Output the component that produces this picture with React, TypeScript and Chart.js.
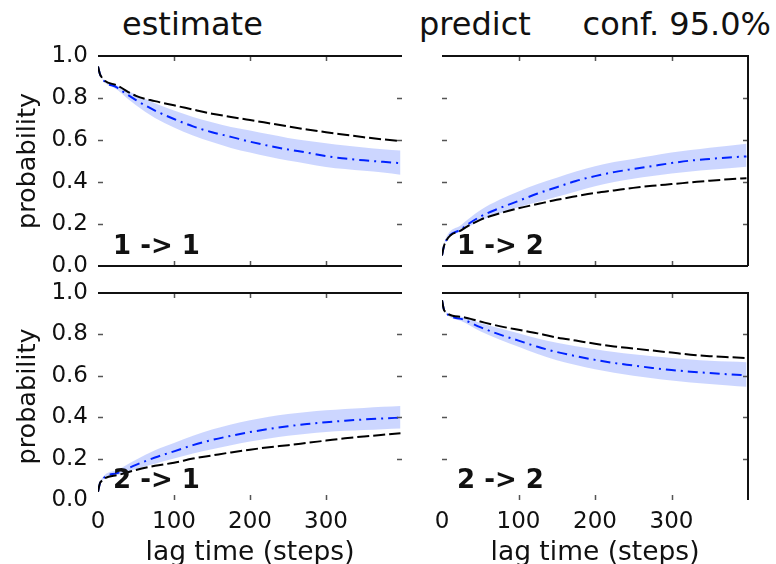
import React, { useEffect, useRef } from 'react';
import { Chart, registerables } from 'chart.js';

Chart.register(...registerables);

const FONT = '"DejaVu Sans", sans-serif';

// lag times (steps)
const lags = [0, 3, 25, 50, 75, 100, 125, 150, 175, 200, 225, 250, 275, 300, 325, 350, 375, 398];
const xTickValues = [0, 100, 200, 300];
const yTickValues = [0, 0.2, 0.4, 0.6, 0.8, 1.0];
const innerXTicks = [100, 200, 300];
const innerYTicks = [0.2, 0.4, 0.6, 0.8];

// 1 -> 1
const est11 = [0.95, 0.91, 0.86, 0.81, 0.785, 0.765, 0.745, 0.725, 0.71, 0.695, 0.68, 0.665, 0.65, 0.637, 0.625, 0.613, 0.603, 0.595];
const pred11 = [0.95, 0.91, 0.85, 0.79, 0.74, 0.70, 0.665, 0.637, 0.615, 0.592, 0.572, 0.555, 0.54, 0.523, 0.512, 0.503, 0.496, 0.49];
const hi11 = [0.95, 0.91, 0.86, 0.815, 0.775, 0.74, 0.71, 0.685, 0.662, 0.645, 0.627, 0.61, 0.597, 0.585, 0.574, 0.564, 0.556, 0.55];
const lo11 = [0.95, 0.91, 0.84, 0.765, 0.705, 0.66, 0.622, 0.59, 0.562, 0.54, 0.52, 0.502, 0.487, 0.472, 0.462, 0.453, 0.445, 0.435];

// 1 -> 2
const est12 = [0.05, 0.10, 0.17, 0.22, 0.25, 0.275, 0.295, 0.315, 0.332, 0.348, 0.36, 0.372, 0.382, 0.39, 0.398, 0.406, 0.413, 0.418];
const pred12 = [0.05, 0.10, 0.175, 0.235, 0.275, 0.31, 0.345, 0.375, 0.405, 0.428, 0.447, 0.462, 0.476, 0.49, 0.502, 0.51, 0.517, 0.522];
const hi12 = [0.05, 0.11, 0.195, 0.265, 0.315, 0.355, 0.39, 0.42, 0.45, 0.475, 0.495, 0.51, 0.525, 0.54, 0.552, 0.563, 0.573, 0.582];
const lo12 = [0.05, 0.10, 0.165, 0.215, 0.25, 0.28, 0.305, 0.33, 0.355, 0.38, 0.40, 0.415, 0.428, 0.44, 0.45, 0.458, 0.466, 0.473];

// 2 -> 1
const est21 = [0.04, 0.085, 0.12, 0.145, 0.165, 0.18, 0.20, 0.215, 0.23, 0.243, 0.255, 0.265, 0.276, 0.287, 0.298, 0.307, 0.315, 0.322];
const pred21 = [0.04, 0.085, 0.13, 0.17, 0.205, 0.235, 0.265, 0.29, 0.31, 0.328, 0.343, 0.356, 0.367, 0.376, 0.383, 0.389, 0.394, 0.398];
const hi21 = [0.04, 0.09, 0.145, 0.195, 0.24, 0.275, 0.31, 0.34, 0.365, 0.385, 0.402, 0.415, 0.425, 0.433, 0.44, 0.445, 0.45, 0.454];
const lo21 = [0.04, 0.085, 0.12, 0.15, 0.175, 0.20, 0.225, 0.245, 0.265, 0.283, 0.297, 0.31, 0.32, 0.328, 0.334, 0.338, 0.342, 0.345];

// 2 -> 2
const est22 = [0.965, 0.915, 0.885, 0.862, 0.84, 0.822, 0.805, 0.785, 0.77, 0.755, 0.742, 0.732, 0.722, 0.712, 0.702, 0.695, 0.69, 0.686];
const pred22 = [0.965, 0.915, 0.875, 0.835, 0.80, 0.77, 0.74, 0.715, 0.695, 0.677, 0.662, 0.65, 0.638, 0.628, 0.62, 0.613, 0.607, 0.602];
const hi22 = [0.965, 0.915, 0.885, 0.855, 0.83, 0.805, 0.78, 0.76, 0.743, 0.728, 0.715, 0.704, 0.694, 0.686, 0.679, 0.673, 0.669, 0.666];
const lo22 = [0.965, 0.915, 0.865, 0.815, 0.775, 0.74, 0.705, 0.675, 0.652, 0.632, 0.615, 0.60, 0.588, 0.577, 0.568, 0.56, 0.553, 0.547];

type Spec = {
  label: string;
  est: number[];
  pred: number[];
  hi: number[];
  lo: number[];
  L: number; T: number; R: number; B: number;
  showX: boolean; showY: boolean;
  spines: { top: boolean; bottom: boolean; left: boolean; right: boolean };
};

const panels: Spec[] = [
  { label: '1 -> 1', est: est11, pred: pred11, hi: hi11, lo: lo11, L: 98, T: 56, R: 402, B: 266, showX: false, showY: true, spines: { top: true, bottom: true, left: false, right: false } },
  { label: '1 -> 2', est: est12, pred: pred12, hi: hi12, lo: lo12, L: 442, T: 56, R: 748, B: 266, showX: false, showY: false, spines: { top: true, bottom: true, left: false, right: true } },
  { label: '2 -> 1', est: est21, pred: pred21, hi: hi21, lo: lo21, L: 98, T: 293, R: 402, B: 500, showX: true, showY: true, spines: { top: true, bottom: false, left: false, right: false } },
  { label: '2 -> 2', est: est22, pred: pred22, hi: hi22, lo: lo22, L: 442, T: 293, R: 748, B: 500, showX: true, showY: false, spines: { top: true, bottom: false, left: false, right: true } },
];

const toXY = (ys: number[]) => lags.map((x, i) => ({ x, y: ys[i] }));

function Panel({ spec }: { spec: Spec }) {
  const ref = useRef<HTMLCanvasElement>(null);
  const PL = spec.showY ? spec.L : 14;
  const PR = 8;
  const PT = 14;
  const PB = spec.showX ? 64 : 12;
  const width = spec.R - spec.L + PL + PR;
  const height = spec.B - spec.T + PT + PB;

  useEffect(() => {
    const decor = {
      id: 'decor',
      afterDatasetsDraw(chart: any) {
        const { ctx, chartArea: a, scales } = chart;
        const xs = scales.x;
        const ys = scales.y;
        ctx.save();
        // inner tick marks
        ctx.strokeStyle = '#555';
        ctx.lineWidth = 1.5;
        ctx.beginPath();
        innerYTicks.forEach((v) => {
          const py = Math.round(ys.getPixelForValue(v)) + 0.5;
          ctx.moveTo(a.left, py); ctx.lineTo(a.left + 5, py);
          ctx.moveTo(a.right, py); ctx.lineTo(a.right - 5, py);
        });
        innerXTicks.forEach((v) => {
          const px = Math.round(xs.getPixelForValue(v)) + 0.5;
          ctx.moveTo(px, a.top); ctx.lineTo(px, a.top + 5);
          ctx.moveTo(px, a.bottom); ctx.lineTo(px, a.bottom - 5);
        });
        ctx.stroke();
        // spines
        ctx.strokeStyle = '#111';
        ctx.lineWidth = 2;
        ctx.beginPath();
        if (spec.spines.top) { ctx.moveTo(a.left, a.top); ctx.lineTo(a.right, a.top); }
        if (spec.spines.bottom) { ctx.moveTo(a.left, a.bottom); ctx.lineTo(a.right, a.bottom); }
        if (spec.spines.left) { ctx.moveTo(a.left, a.top); ctx.lineTo(a.left, a.bottom); }
        if (spec.spines.right) { ctx.moveTo(a.right, a.top - 1); ctx.lineTo(a.right, a.bottom); }
        ctx.stroke();
        // panel label
        ctx.fillStyle = '#111';
        ctx.font = `bold 26px ${FONT}`;
        ctx.textBaseline = 'alphabetic';
        ctx.textAlign = 'left';
        ctx.fillText(spec.label, a.left + 15, a.bottom - 12);
        ctx.restore();
      },
    };

    const fixPad = (s: any) => {
      s.paddingLeft = 0; s.paddingRight = 0; s.paddingTop = 0; s.paddingBottom = 0;
    };

    const chart = new Chart(ref.current!, {
      type: 'line',
      data: {
        datasets: [
          {
            label: 'estimate',
            data: toXY(spec.est),
            borderColor: '#000',
            borderWidth: 2,
            borderDash: [12, 4],
            pointRadius: 0,
            fill: false,
            cubicInterpolationMode: 'monotone',
          },
          {
            label: 'predict',
            data: toXY(spec.pred),
            borderColor: '#0022ff',
            borderWidth: 2,
            borderDash: [10, 5, 2, 5],
            pointRadius: 0,
            fill: false,
            cubicInterpolationMode: 'monotone',
          },
          {
            label: 'upper',
            data: toXY(spec.hi),
            borderWidth: 0,
            borderColor: 'rgba(0,0,0,0)',
            pointRadius: 0,
            fill: false,
            cubicInterpolationMode: 'monotone',
          },
          {
            label: 'lower',
            data: toXY(spec.lo),
            borderWidth: 0,
            borderColor: 'rgba(0,0,0,0)',
            backgroundColor: 'rgba(50,90,255,0.25)',
            pointRadius: 0,
            fill: '-1',
            cubicInterpolationMode: 'monotone',
          },
        ],
      },
      options: {
        animation: false,
        responsive: false,
        devicePixelRatio: 1,
        layout: { padding: { left: 0, right: PR, top: PT, bottom: 0 } },
        plugins: { legend: { display: false }, tooltip: { enabled: false } },
        scales: {
          x: {
            type: 'linear',
            min: 0,
            max: 400,
            afterBuildTicks: (s: any) => { s.ticks = xTickValues.map((v) => ({ value: v })); },
            ticks: {
              display: spec.showX,
              autoSkip: false,
              maxRotation: 0,
              padding: 8,
              color: '#111',
              font: { family: FONT, size: 23 },
            },
            grid: { display: false, drawTicks: false },
            border: { display: false },
            title: {
              display: spec.showX,
              text: 'lag time (steps)',
              color: '#111',
              font: { family: FONT, size: 26.5, lineHeight: 0.85 },
              padding: 0,
            },
            afterFit: (s: any) => { s.height = PB; fixPad(s); },
          },
          y: {
            min: 0,
            max: 1,
            afterBuildTicks: (s: any) => { s.ticks = yTickValues.map((v) => ({ value: v })); },
            ticks: {
              display: spec.showY,
              padding: 10,
              color: '#111',
              font: { family: FONT, size: 23 },
              callback: (v: any) => Number(v).toFixed(1),
            },
            grid: { display: false, drawTicks: false },
            border: { display: false },
            title: {
              display: spec.showY,
              text: 'probability',
              color: '#111',
              font: { family: FONT, size: 25.5 },
              padding: { top: 13, bottom: 0 },
            },
            afterFit: (s: any) => { s.width = PL; fixPad(s); },
          },
        },
      },
      plugins: [decor],
    } as any);
    return () => chart.destroy();
  }, []);

  return (
    <canvas
      ref={ref}
      width={width}
      height={height}
      style={{ position: 'absolute', left: spec.L - PL, top: spec.T - PT, width, height }}
    />
  );
}

const titleStyle: React.CSSProperties = {
  position: 'absolute',
  top: 5,
  fontFamily: FONT,
  fontSize: 32,
  lineHeight: '38px',
  color: '#111',
  whiteSpace: 'nowrap',
};

export default function App() {
  return (
    <div style={{ position: 'absolute', left: 0, top: 0, width: 776, height: 564, background: '#fff', overflow: 'hidden' }}>
      <div style={{ ...titleStyle, left: 122 }}>estimate</div>
      <div style={{ ...titleStyle, left: 419 }}>predict</div>
      <div style={{ ...titleStyle, right: 5 }}>conf. 95.0%</div>
      {panels.map((p) => (
        <Panel key={p.label} spec={p} />
      ))}
    </div>
  );
}
